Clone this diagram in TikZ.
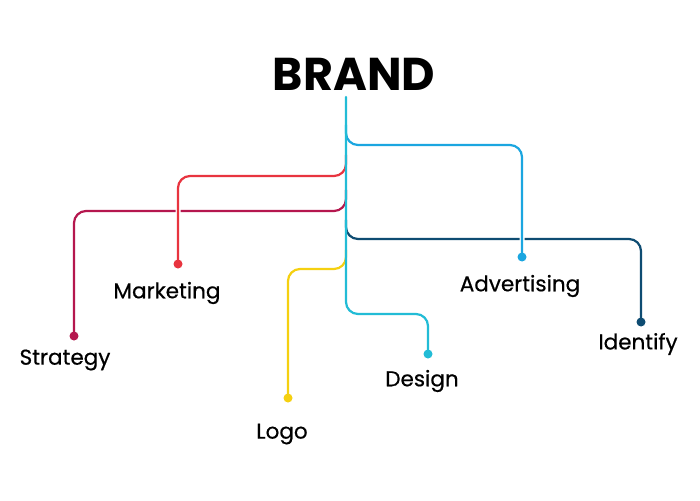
\documentclass[tikz,border=0pt]{standalone}
\usepackage{fontspec}
\setmainfont{Poppins}
\newfontfamily\lblfont{Poppins}[FakeBold=0.5]
\begin{document}
\begin{tikzpicture}[x=1pt,y=-1pt,
  branch/.style={line width=2.2pt, rounded corners=12pt, line cap=round},
  halo/.style={preaction={draw=white, line width=5pt}},
  dotnode/.style={circle, inner sep=0pt, minimum size=9pt, fill=#1},
  lbl/.style={font=\lblfont\fontsize{21.5}{24}\selectfont, text=black, inner sep=0pt}]
\definecolor{cstrat}{HTML}{B5174E}
\definecolor{cmark}{HTML}{E8343F}
\definecolor{cadv}{HTML}{1BA6E0}
\definecolor{cident}{HTML}{0E4C72}
\definecolor{clogo}{HTML}{F5D010}
\definecolor{cdesign}{HTML}{22BCD6}
\useasboundingbox (0,0) rectangle (700,500);
\fill[white] (0,0) rectangle (700,500);

\node[font=\fontsize{46}{52}\selectfont\bfseries, inner sep=0pt] (brand) at (354,74) {BRAND};
\coordinate (top) at (346,97);

\coordinate (pstrat) at (74,336);
\coordinate (pmark) at (178,264);
\coordinate (padv) at (522,257);
\coordinate (pident) at (641,322);
\coordinate (plogo) at (288,398);
\coordinate (pdesign) at (428,354);

\coordinate (jstrat) at (346,190);
\coordinate (jmark) at (346,155);
\coordinate (jadv) at (346,125);
\coordinate (jident) at (346,220);
\coordinate (jlogo) at (346,250);

\draw[branch, cstrat] (jstrat) -- (346,211) -- (74,211) -- (pstrat);
\draw[branch, cident] (jident) -- (346,239) -- (641,239) -- (pident);
\draw[branch, clogo] (jlogo) -- (346,269) -- (288,269) -- (plogo);
\draw[branch, cmark, halo] (jmark) -- (346,176) -- (178,176) -- (pmark);
\draw[branch, cadv, halo] (jadv) -- (346,145) -- (522,145) -- (padv);
\draw[branch, cdesign] (top) -- (346,314) -- (428,314) -- (pdesign);

\node[dotnode=cstrat] (dstrat) at (pstrat) {};
\node[dotnode=cmark] (dmark) at (pmark) {};
\node[dotnode=cadv] (dadv) at (padv) {};
\node[dotnode=cident] (dident) at (pident) {};
\node[dotnode=clogo] (dlogo) at (plogo) {};
\node[dotnode=cdesign] (ddesign) at (pdesign) {};

\node[lbl] (lstrat) at (65,360) {Strategy};
\node[lbl] (lmark) at (167,293) {Marketing};
\node[lbl] (ladv) at (520,286) {Advertising};
\node[lbl] (lident) at (638,344) {Identify};
\node[lbl] (llogo) at (282,434) {Logo};
\node[lbl] (ldesign) at (422,381) {Design};
\end{tikzpicture}
\end{document}
